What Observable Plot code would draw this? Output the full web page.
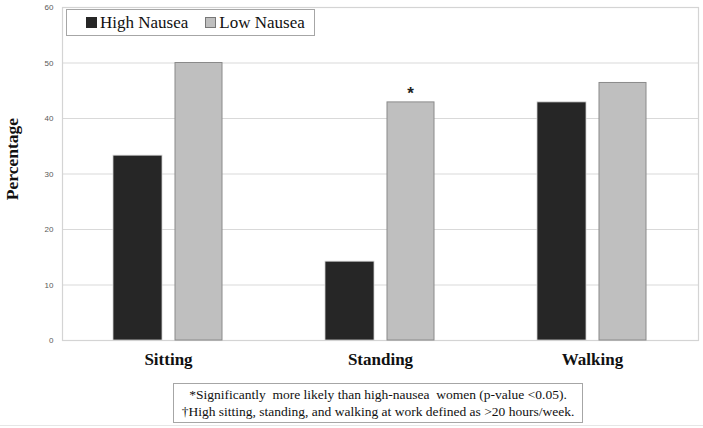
<!DOCTYPE html>
<html>
<head>
<meta charset="utf-8">
<script src="https://cdn.jsdelivr.net/npm/d3@7"></script>
<script src="https://cdn.jsdelivr.net/npm/@observablehq/plot@0.6"></script>
<style>
  body { margin: 0; background: #fff; }
  #wrap { position: relative; width: 703px; height: 428px; overflow: hidden; background: #fff; }
  #ylabel { position: absolute; left: 12px; top: 159px; transform: translate(-50%, -50%) rotate(-90deg); font-weight: bold; font-size: 17.5px; white-space: nowrap; color: #111; }
  #legend { position: absolute; left: 66px; top: 9px; width: 247px; height: 25px; border: 1px solid #a6a6a6; background: #fff; display: flex; align-items: center; font-size: 17px; color: #111; white-space: nowrap; }
  .sw { display: inline-block; width: 9px; height: 9px; margin-right: 3px; }
  #note { position: absolute; left: 173px; top: 383px; width: 410px; height: 40px; border: 1px solid #a6a6a6; font-size: 13.5px; text-align: center; line-height: 17px; padding-top: 2px; box-sizing: border-box; white-space: nowrap; color: #111; }
  #bline { position: absolute; left: 0; top: 425px; width: 703px; height: 1px; background: #e6e6e6; }
</style>
</head>
<body>
<div id="wrap">
  <div id="chart"></div>
  <div id="ylabel" style="font-family:'Liberation Serif'">Percentage</div>
  <div id="legend" style="font-family:'Liberation Serif'"></div>
  <div id="note" style="font-family:'Liberation Serif'"></div>
  <div id="bline"></div>
</div>
<script>
const categories = ["Sitting", "Standing", "Walking"];
const seriesNames = ["High Nausea", "Low Nausea"];
const highNausea = [33.3, 14.2, 42.9];
const lowNausea = [50.0, 42.9, 46.4];
const yTicks = [0, 10, 20, 30, 40, 50, 60];
const significant = [{category: "Standing", series: "Low Nausea", value: 42.9, mark: "*"}];
const footnotes = [
  "*Significantly&nbsp; more likely than high-nausea&nbsp; women (p-value &lt;0.05).",
  "\u2020High sitting, standing, and walking at work defined as &gt;20 hours/week."
];
const colors = {"High Nausea": "#262626", "Low Nausea": "#bfbfbf"};
const strokes = {"High Nausea": "#d0d0d0", "Low Nausea": "#8a8a8a"};

const highData = categories.map((c, i) => ({category: c, value: highNausea[i]}));
const lowData = categories.map((c, i) => ({category: c, value: lowNausea[i]}));

const plot = Plot.plot({
  width: 703,
  height: 375,
  marginTop: 7,
  marginBottom: 35,
  marginLeft: 62,
  marginRight: 5,
  style: {background: "#fff", overflow: "visible"},
  x: {domain: categories, padding: 0, label: null},
  y: {domain: [0, 60], ticks: yTicks, label: null},
  marks: [
    Plot.gridY(yTicks, {stroke: "#d9d9d9", strokeOpacity: 1, strokeWidth: 1}),
    Plot.frame({stroke: "#d4d4d4", strokeWidth: 1.2}),
    Plot.barY(highData, {x: "category", y: "value", fill: colors["High Nausea"], stroke: strokes["High Nausea"], strokeWidth: 0.8, insetLeft: 51, insetRight: 112}),
    Plot.barY(lowData, {x: "category", y: "value", fill: colors["Low Nausea"], stroke: strokes["Low Nausea"], strokeWidth: 1, insetLeft: 113, insetRight: 52}),
    Plot.text(significant, {x: "category", y: "value", text: "mark", dx: 30, dy: -9, fontSize: 17, fontWeight: "bold", fill: "#222", fontFamily: "Liberation Sans"}),
    Plot.axisY({ticks: yTicks, tickSize: 0, tickPadding: 9, fontSize: 8, fill: "#595959", fontFamily: "Liberation Sans", label: null}),
    Plot.axisX({tickSize: 0, tickPadding: 12, fontSize: 17, fontWeight: "bold", fill: "#111", fontFamily: "Liberation Serif", label: null})
  ]
});
document.getElementById("chart").appendChild(plot);

const legend = document.getElementById("legend");
legend.innerHTML = seriesNames.map((s, i) =>
  `<span style="display:inline-flex;align-items:center;margin-left:${i === 0 ? 19 : 17}px"><span class="sw" style="background:${colors[s]};border:1px solid ${i === 0 ? '#262626' : '#777'}"></span>${s}</span>`
).join("");
document.getElementById("note").innerHTML = footnotes.join("<br>");
</script>
</body>
</html>
